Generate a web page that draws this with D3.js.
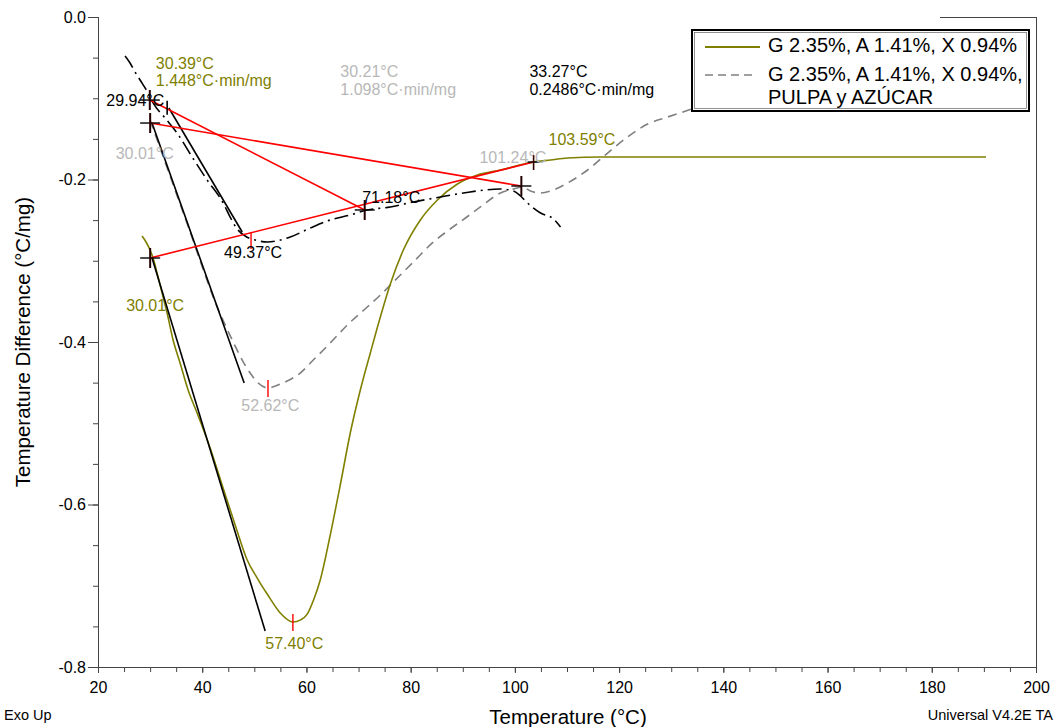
<!DOCTYPE html>
<html>
<head>
<meta charset="utf-8">
<script src="https://cdn.jsdelivr.net/npm/d3@7"></script>
<style>
  html, body { margin: 0; padding: 0; background: #fff; }
  svg { display: block; font-family: "Liberation Sans", Arial, sans-serif; }
</style>
</head>
<body>
<svg id="chart" width="1057" height="727"></svg>
<script>
// ---------------- DATA ----------------
const xTicks = [20, 40, 60, 80, 100, 120, 140, 160, 180, 200];
const yTicks = [0.0, -0.2, -0.4, -0.6, -0.8];

// Solid olive curve: G 2.35%, A 1.41%, X 0.94%  [T (°C), dT (°C/mg)]
const seriesOlive = [
  [28.45,-0.2695],[29.22,-0.2769],[29.99,-0.2868],[30.57,-0.2966],[31.53,-0.320],
  [32.49,-0.3446],[33.26,-0.3643],[34.41,-0.3975],[35.75,-0.4258],[37.29,-0.4591],
  [39.02,-0.4874],[41.52,-0.5305],[43.82,-0.576],[46.32,-0.6252],[48.63,-0.6683],
  [50.55,-0.6905],[52.47,-0.7102],[54.97,-0.7335],[57.40,-0.7446],[58.9,-0.7420],
  [60.15,-0.7350],[61.4,-0.7170],[62.65,-0.6929],[64.57,-0.6375],[66.49,-0.576],
  [68.41,-0.512],[70.34,-0.4591],
  [72.26,-0.4135],[74.18,-0.3692],[76.10,-0.3286],[78.60,-0.2868],[81.86,-0.2498],
  [85.13,-0.2252],[88.97,-0.2055],[92.81,-0.1945],[97.23,-0.1883],[103.57,-0.1785],
  [106.84,-0.176],[110.11,-0.1735],[116.45,-0.1723],[135.66,-0.1723],[160.0,-0.1723],
  [190.41,-0.1723]
];

// Dashed grey curve: G 2.35%, A 1.41%, X 0.94%, PULPA y AZÚCAR
const seriesGray = [
  [29.99,-0.1268],[31.91,-0.1612],[34.79,-0.2129],[37.68,-0.2646],[40.56,-0.3175],
  [42.48,-0.3508],[44.40,-0.3791],[45.94,-0.400],[47.67,-0.4222],[49.20,-0.4382],
  [50.74,-0.4505],[52.62,-0.4566],[54.58,-0.4529],[56.31,-0.448],[58.81,-0.4382],
  [61.31,-0.4222],[64.57,-0.4012],[67.84,-0.3791],[71.68,-0.3569],[74.18,-0.3422],
  [76.68,-0.3262],[80.52,-0.3015],[84.36,-0.2769],[87.05,-0.2634],[90.51,-0.2474],
  [93.39,-0.2338],[97.23,-0.2166],[99.73,-0.2117],[101.46,-0.2092],[103.0,-0.2142],
  [104.92,-0.2166],[106.84,-0.2142],[110.11,-0.2043],[113.95,-0.1883],[117.79,-0.1674],
  [121.63,-0.1477],[125.48,-0.1317],[129.32,-0.1231],[133.35,-0.1145],[138.0,-0.104]
];

// Dash-dot black curve
const seriesBlack = [
  [25.19,-0.048],[26.15,-0.0566],[27.11,-0.0677],[28.07,-0.0775],[29.61,-0.0935],
  [30.57,-0.1058],[32.87,-0.1243],[35.18,-0.1428],[38.06,-0.1723],[40.94,-0.2006],
  [44.02,-0.2289],[45.36,-0.2462],[46.71,-0.2609],[48.24,-0.2695],[50.16,-0.2745],
  [52.47,-0.2769],[54.97,-0.2745],[56.89,-0.2708],[60.73,-0.2597],[64.57,-0.2498],
  [68.41,-0.2437],[71.68,-0.2375],[76.10,-0.2338],[80.52,-0.2277],[85.71,-0.2215],
  [90.13,-0.2166],[97.23,-0.2117],[99.73,-0.2142],[101.08,-0.2203],[102.42,-0.2289],
  [104.92,-0.2412],[107.42,-0.2486],[108.76,-0.2585]
];

// Red baselines [[T1,v1],[T2,v2]]
const baselines = [
  [[29.94,-0.1022],[71.18,-0.2375]],
  [[30.01,-0.1305],[101.24,-0.2080]],
  [[30.01,-0.2966],[103.59,-0.1785]]
];
// Black onset tangents
const tangents = [
  [[33.60,-0.1120],[47.67,-0.2646]],
  [[30.37,-0.1305],[48.05,-0.4505]],
  [[30.37,-0.2966],[52.08,-0.7557]]
];
// Cross markers (large) and small markers
const crossesBig = [[29.94,-0.1022],[30.01,-0.1305],[30.01,-0.2966],[71.18,-0.2375],[101.24,-0.2080]];
const crossesSmall = [[103.59,-0.1785]];
const onsetTicks = [[33.27,-0.1130]];
const peakTicks = [[49.37,-0.2745],[52.62,-0.4566],[57.40,-0.7446]];

// Annotation texts: [text, T, v, colour key]
const annotations = [
  ["30.39°C", 31.1, -0.0640, "olive"],
  ["1.448°C·min/mg", 31.1, -0.0850, "olive"],
  ["29.94°C", 21.6, -0.1095, "black"],
  ["30.01°C", 23.4, -0.1748, "lgray"],
  ["49.37°C", 44.2, -0.2966, "black"],
  ["30.01°C", 25.4, -0.3618, "olive"],
  ["52.62°C", 47.5, -0.4849, "lgray"],
  ["57.40°C", 52.1, -0.7778, "olive"],
  ["30.21°C", 66.5, -0.0738, "lgray"],
  ["1.098°C·min/mg", 66.5, -0.0960, "lgray"],
  ["33.27°C", 102.8, -0.0738, "black"],
  ["0.2486°C·min/mg", 102.8, -0.0960, "black"],
  ["71.18°C", 70.7, -0.2289, "black"],
  ["101.24°C", 93.2, -0.1797, "lgray"],
  ["103.59°C", 106.45, -0.1575, "olive"]
];

const legendLabels = ["G 2.35%, A 1.41%, X 0.94%", "G 2.35%, A 1.41%, X 0.94%,", "PULPA y AZÚCAR"];

// ---------------- DRAW ----------------
const colors = { olive: "#808000", gray: "#808080", lgray: "#b8b8b8", black: "#000", red: "#ff0000" };
const svg = d3.select("#chart");
const L = 98, R = 1036, T0 = 17, B = 667;
const x = d3.scaleLinear().domain([20, 200]).range([L, R]);
const y = d3.scaleLinear().domain([0, -0.8]).range([T0, B]);

// axes
const xMinor = d3.axisBottom(x).tickValues(d3.range(20, 201, 5)).tickSize(5).tickFormat("");
const xMajor = d3.axisBottom(x).tickValues(xTicks).tickSize(6).tickPadding(9).tickFormat(d => d);
const yMinor = d3.axisLeft(y).tickValues(d3.range(0, -0.801, -0.05)).tickSize(5).tickFormat("");
const yMajor = d3.axisLeft(y).tickValues(yTicks).tickSize(10).tickPadding(2)
  .tickFormat(d => (d === 0 ? "0.0" : d.toFixed(1)));

function styleAxis(g) {
  g.selectAll("path").attr("stroke", "#444");
  g.selectAll("line").attr("stroke", "#444");
  g.selectAll("text").attr("font-family", "'Liberation Sans', Arial, sans-serif")
    .attr("font-size", 16).attr("fill", "#000");
}
svg.append("g").attr("transform", `translate(0,${B})`).call(xMinor).call(styleAxis);
svg.append("g").attr("transform", `translate(0,${B})`).call(xMajor).call(styleAxis);
svg.append("g").attr("transform", `translate(${L},0)`).call(yMinor).call(styleAxis);
svg.append("g").attr("transform", `translate(${L},0)`).call(yMajor).call(styleAxis);

// right frame + partial top frame
svg.append("line").attr("x1", R + 0.5).attr("x2", R + 0.5).attr("y1", T0).attr("y2", B)
  .attr("stroke", "#444");
svg.append("line").attr("x1", 940).attr("x2", R + 0.5).attr("y1", T0 + 0.5).attr("y2", T0 + 0.5)
  .attr("stroke", "#444");

const line = d3.line().x(d => x(d[0])).y(d => y(d[1])).curve(d3.curveMonotoneX);
const seg = d3.line().x(d => x(d[0])).y(d => y(d[1]));

// curves
svg.append("path").datum(seriesGray).attr("d", line).attr("fill", "none")
  .attr("stroke", colors.gray).attr("stroke-width", 1.6).attr("stroke-dasharray", "9,6");
svg.append("path").datum(seriesOlive).attr("d", line).attr("fill", "none")
  .attr("stroke", colors.olive).attr("stroke-width", 1.6);
svg.append("path").datum(seriesBlack).attr("d", line).attr("fill", "none")
  .attr("stroke", colors.black).attr("stroke-width", 1.6).attr("stroke-dasharray", "14,5,2,5");

// tangents
svg.selectAll(".tan").data(tangents).join("path").attr("d", seg).attr("fill", "none")
  .attr("stroke", "#000").attr("stroke-width", 1.6);
// baselines
svg.selectAll(".base").data(baselines).join("path").attr("d", seg).attr("fill", "none")
  .attr("stroke", colors.red).attr("stroke-width", 1.6);

// markers
const gm = svg.append("g");
crossesBig.forEach(d => {
  const cx = x(d[0]), cy = y(d[1]);
  gm.append("line").attr("x1", cx - 10).attr("x2", cx + 10).attr("y1", cy).attr("y2", cy)
    .attr("stroke", "#000").attr("stroke-width", 1.4);
  gm.append("line").attr("x1", cx).attr("x2", cx).attr("y1", cy - 10).attr("y2", cy + 10)
    .attr("stroke", "#200").attr("stroke-width", 2);
});
crossesSmall.forEach(d => {
  const cx = x(d[0]), cy = y(d[1]);
  gm.append("line").attr("x1", cx - 6).attr("x2", cx + 6).attr("y1", cy).attr("y2", cy)
    .attr("stroke", "#000").attr("stroke-width", 1.4);
  gm.append("line").attr("x1", cx).attr("x2", cx).attr("y1", cy - 7).attr("y2", cy + 8)
    .attr("stroke", "#300").attr("stroke-width", 1.6);
});
onsetTicks.forEach(d => {
  const cx = x(d[0]), cy = y(d[1]);
  gm.append("line").attr("x1", cx).attr("x2", cx).attr("y1", cy - 8).attr("y2", cy + 6)
    .attr("stroke", "#000").attr("stroke-width", 1.6);
});
peakTicks.forEach(d => {
  const cx = x(d[0]), cy = y(d[1]);
  gm.append("line").attr("x1", cx).attr("x2", cx).attr("y1", cy - 8).attr("y2", cy + 9)
    .attr("stroke", colors.red).attr("stroke-width", 1.4);
});

// annotations
svg.selectAll(".ann").data(annotations).join("text")
  .attr("x", d => x(d[1])).attr("y", d => y(d[2]))
  .attr("font-size", 16).attr("fill", d => colors[d[3]])
  .text(d => d[0]);

// legend
const lg = svg.append("g");
lg.append("rect").attr("x", 692).attr("y", 30).attr("width", 337).attr("height", 81)
  .attr("fill", "#fff").attr("stroke", "#000").attr("stroke-width", 2);
lg.append("rect").attr("x", 694.5).attr("y", 32.5).attr("width", 332).attr("height", 76)
  .attr("fill", "none").attr("stroke", "#777").attr("stroke-width", 0.8);
lg.append("line").attr("x1", 705).attr("x2", 760).attr("y1", 47).attr("y2", 47)
  .attr("stroke", colors.olive).attr("stroke-width", 2);
lg.append("line").attr("x1", 705).attr("x2", 752).attr("y1", 75).attr("y2", 75)
  .attr("stroke", colors.gray).attr("stroke-width", 1.6).attr("stroke-dasharray", "8,5");
const legY = [52, 81, 104];
legendLabels.forEach((t, i) => {
  lg.append("text").attr("x", 768).attr("y", legY[i]).attr("font-size", 20)
    .attr("fill", "#000").text(t);
});

// titles
svg.append("text").attr("x", 568).attr("y", 724).attr("text-anchor", "middle")
  .attr("font-size", 20.5).text("Temperature (°C)");
svg.append("text").attr("transform", "translate(30,342) rotate(-90)").attr("text-anchor", "middle")
  .attr("font-size", 20.5).text("Temperature Difference (°C/mg)");
svg.append("text").attr("x", 4).attr("y", 720).attr("font-size", 14.5).text("Exo Up");
svg.append("text").attr("x", 1053).attr("y", 720).attr("text-anchor", "end")
  .attr("font-size", 14.5).text("Universal V4.2E TA");
</script>
</body>
</html>
